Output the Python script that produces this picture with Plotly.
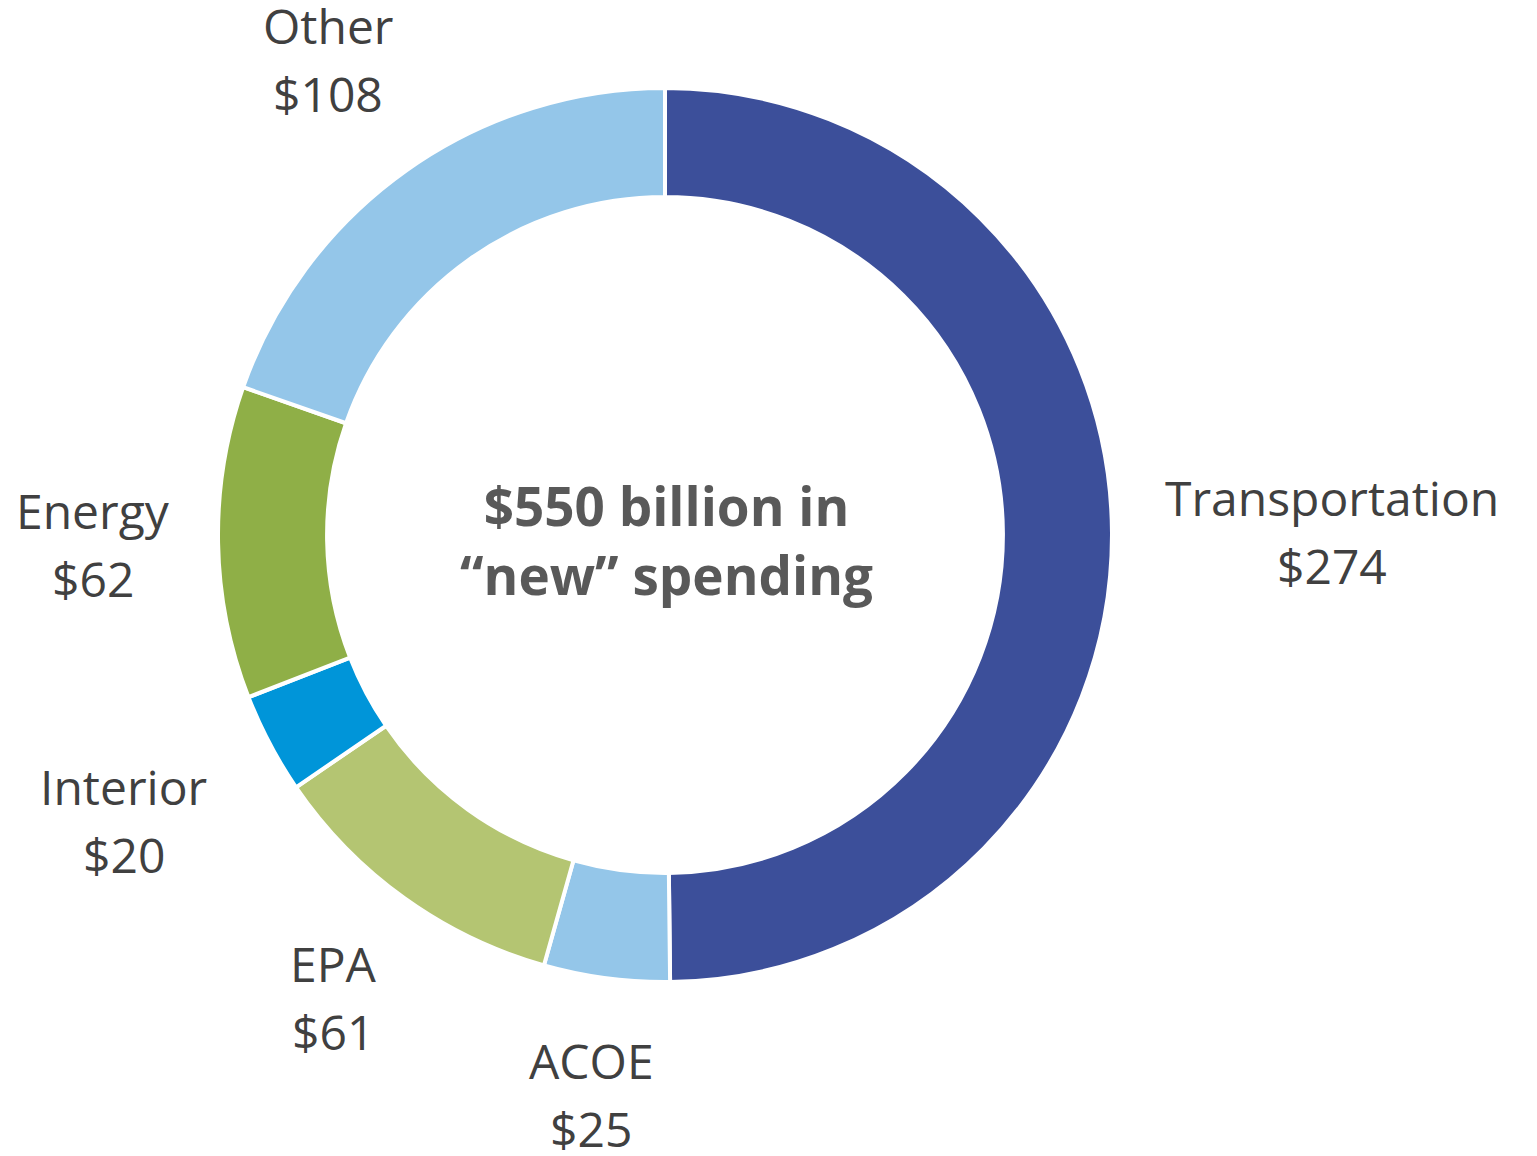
import math
import plotly.graph_objects as go

# ---- data ----
categories = ["Transportation", "ACOE", "EPA", "Interior", "Energy", "Other"]
values = [274, 25, 61, 20, 62, 108]
value_labels = ["$274", "$25", "$61", "$20", "$62", "$108"]
colors = ["#3C4F9A", "#94C6E9", "#B4C572", "#0095D9", "#8FAF47", "#94C6E9"]
center_lines = ["$550 billion in", "“new” spending"]

# ---- layout constants ----
W, H = 1537, 1156
OFF = 8                  # page body margin
CX, CY = 665 - OFF, 535 - OFF   # pie centre in pixels (from top-left of figure)
R = 447                  # outer radius in pixels
HOLE = 0.756
FONT = "Open Sans"
FS = 48
LABEL_GAP = 52
LINE_SP = 68             # distance between the two label lines
BLOCK_H = 120

fig = go.Figure(
    go.Pie(
        labels=categories,
        values=values,
        marker=dict(colors=colors, line=dict(color="white", width=4)),
        hole=HOLE,
        sort=False,
        direction="clockwise",
        rotation=0,
        textinfo="none",
        hoverinfo="label+value",
        showlegend=False,
        domain=dict(x=[(CX - R) / W, (CX + R) / W],
                    y=[(H - CY - R) / H, (H - CY + R) / H]),
    )
)

total = sum(values)
annotations = []
cum = 0
for cat, val, vlab in zip(categories, values, value_labels):
    theta = 2 * math.pi * (cum + val / 2) / total
    cum += val
    s, c = math.sin(theta), math.cos(theta)
    w = max(len(cat), len(vlab)) * 0.5 * FS
    rc = R + LABEL_GAP + abs(s) * w / 2 + abs(c) * BLOCK_H / 2
    px = CX + rc * s
    py = CY - rc * c
    for txt, dy in ((cat, -LINE_SP / 2), (vlab, LINE_SP / 2)):
        annotations.append(dict(
            x=px / W, y=1 - (py + dy) / H, xref="paper", yref="paper",
            text=txt, showarrow=False,
            xanchor="center", yanchor="middle", align="center",
            borderpad=0,
            font=dict(family=FONT, size=FS, color="#404040"),
        ))

annotations.append(dict(
    x=(CX + 1) / W, y=1 - (CY + 5) / H, xref="paper", yref="paper",
    text="<b>" + center_lines[0] + "</b><br><b>" + center_lines[1] + "</b>",
    showarrow=False, xanchor="center", yanchor="middle", align="center",
    font=dict(family=FONT, size=53, color="#595959"),
))

fig.update_layout(
    width=W, height=H,
    margin=dict(l=0, r=0, t=0, b=0),
    paper_bgcolor="white", plot_bgcolor="white",
    annotations=annotations,
)

fig.write_html("out.html")
